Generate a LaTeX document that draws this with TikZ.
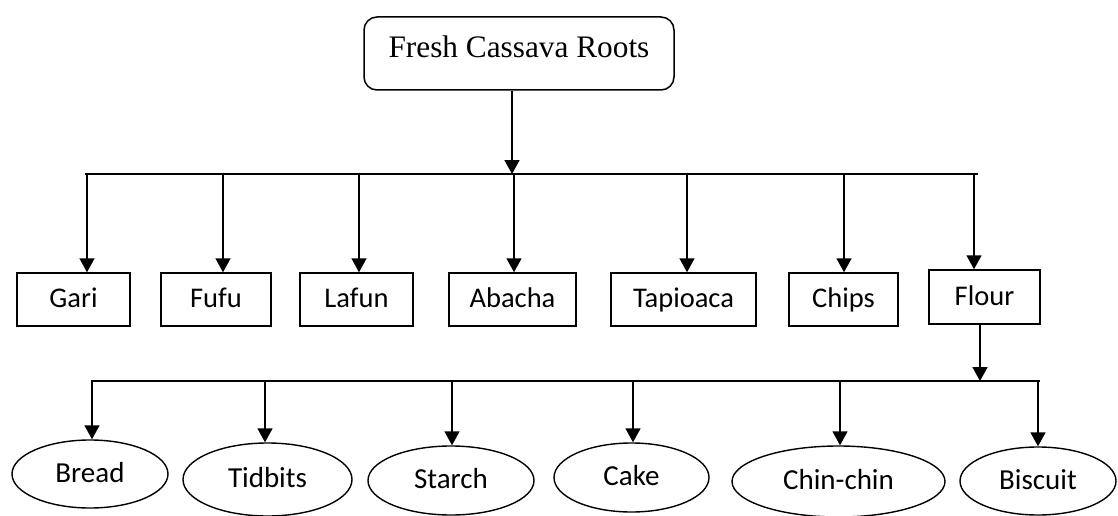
\documentclass[tikz,border=0pt]{standalone}
\usepackage{fontspec}
\setmainfont{Carlito}
\newfontfamily\rootfont{Liberation Serif}
\usetikzlibrary{shapes.geometric,arrows.meta}

\tikzset{
  prodbox/.style={draw,line width=1.5pt,inner sep=0pt,minimum height=53pt,text height=16pt,text depth=0pt,font=\fontsize{28.5}{30}\selectfont},
  useoval/.style={draw,ellipse,line width=1.4pt,inner sep=0pt,text height=16pt,text depth=0pt,font=\fontsize{29}{30}\selectfont},
  arr/.style={line width=1.6pt,-{Triangle[width=15pt,length=14pt]}},
  busline/.style={line width=1.6pt}
}

\begin{document}
\begin{tikzpicture}[x=1pt,y=-1pt]
\useasboundingbox (0,0) rectangle (1118,516);
\node[draw,rounded corners=13pt,line width=1.5pt,inner sep=0pt,minimum width=310pt,text height=41pt,text depth=32pt,font=\rootfont\fontsize{31.3}{34}\selectfont] (root) at (519,53.5) {Fresh Cassava Roots};

\node[prodbox,minimum width=113pt] (gari) at (73.5,299.5) {Gari};
\node[prodbox,minimum width=110pt] (fufu) at (216,299.5) {Fufu};
\node[prodbox,minimum width=113pt] (lafun) at (356.5,299.5) {Lafun};
\node[prodbox,minimum width=127pt] (abacha) at (512.5,299.5) {Abacha};
\node[prodbox,minimum width=145pt] (tapioca) at (683.5,299.5) {Tapioaca};
\node[prodbox,minimum width=109pt] (chips) at (843.5,299.5) {Chips};
\node[prodbox,minimum width=111pt,minimum height=54pt] (flour) at (984.5,297) {Flour};

\node[useoval,minimum width=156pt,minimum height=68pt] (bread) at (90,474) {Bread};
\node[useoval,minimum width=169pt,minimum height=73pt] (tidbits) at (267.5,479.5) {Tidbits};
\node[useoval,minimum width=166pt,minimum height=69pt] (starch) at (451,480.5) {Starch};
\node[useoval,minimum width=155pt,minimum height=69pt] (cake) at (631.5,477.5) {Cake};
\node[useoval,minimum width=213pt,minimum height=71pt] (chinchin) at (838.5,481.5) {Chin-chin};
\node[useoval,minimum width=156pt,minimum height=68pt] (biscuit) at (1038,481) {Biscuit};

% first level
\coordinate (busa) at (85,174);
\coordinate (busb) at (978,174);
\draw[busline] (busa) -- (busb);
\draw[arr] ([xshift=-7pt]root.south) -- ([xshift=-7pt]root.south |- busa);
\foreach \n/\x in {gari/87,fufu/223,lafun/359,abacha/514,tapioca/687,chips/844,flour/974}{
  \coordinate (t\n) at (\x,174);
  \draw[arr] (t\n) -- (t\n |- \n.north);
}

% second level
\coordinate (busc) at (91,381);
\coordinate (busd) at (1040,381);
\draw[busline] (busc) -- (busd);
\draw[arr] ([xshift=-4.5pt]flour.south) -- ([xshift=-4.5pt]flour.south |- busc);
\foreach \n/\x in {bread/92,tidbits/265,starch/452,cake/633,chinchin/840,biscuit/1038}{
  \coordinate (t\n) at (\x,381);
  \draw[arr] (t\n) -- (t\n |- \n.north);
}
\end{tikzpicture}
\end{document}
